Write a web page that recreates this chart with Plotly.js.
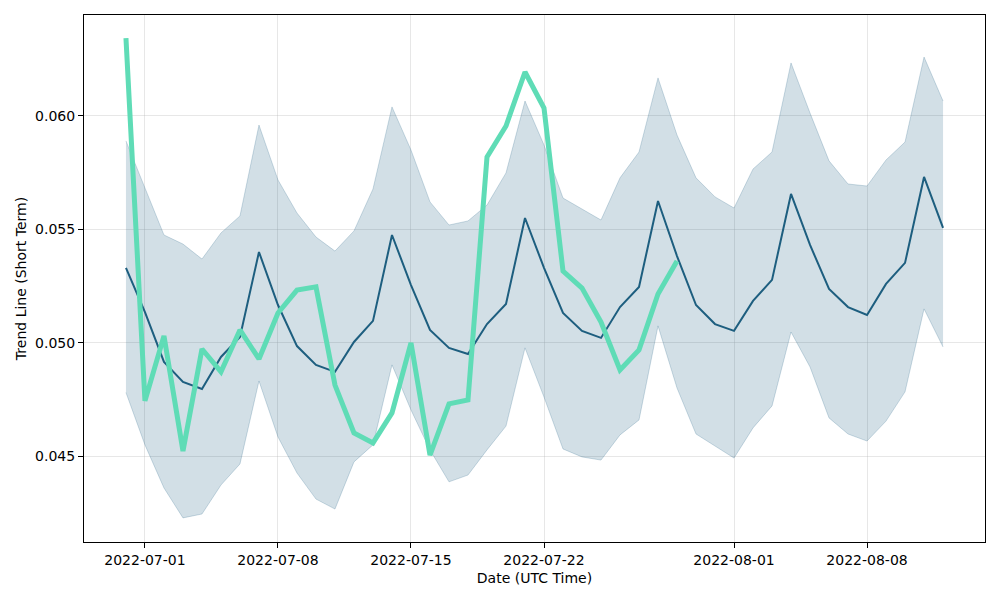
<!DOCTYPE html>
<html>
<head>
<meta charset="utf-8">
<script src="https://cdn.plot.ly/plotly-3.0.1.min.js"></script>
<style>html,body{margin:0;padding:0;background:#fff;}#chart{width:1000px;height:600px;}</style>
</head>
<body>
<div id="chart"></div>
<script>
const startDate = '2022-06-30';
const meanValues = [0.05330,0.05135,0.04915,0.04827,0.04796,0.04937,0.05025,0.05400,0.05166,0.04985,
  0.04902,0.04871,0.05003,0.05096,0.05475,0.05254,0.05056,0.04977,0.04950,0.05082,
  0.05171,0.05550,0.05330,0.05131,0.05052,0.05021,0.05157,0.05246,0.05625,0.05382,
  0.05166,0.05082,0.05052,0.05184,0.05277,0.05656,0.05431,0.05237,0.05157,0.05122,
  0.05259,0.05352,0.05731,0.05506];
const upperValues = [0.05890,0.05682,0.05475,0.05435,0.05369,0.05484,0.05559,0.05960,0.05718,0.05572,
  0.05466,0.05404,0.05493,0.05678,0.06040,0.05850,0.05621,0.05519,0.05537,0.05607,
  0.05749,0.06066,0.05872,0.05638,0.05590,0.05541,0.05727,0.05841,0.06168,0.05916,
  0.05727,0.05643,0.05594,0.05766,0.05841,0.06234,0.06013,0.05802,0.05700,0.05691,
  0.05806,0.05885,0.06260,0.06066];
const lowerValues = [0.04780,0.04549,0.04359,0.04227,0.04244,0.04372,0.04465,0.04831,0.04584,0.04425,
  0.04310,0.04266,0.04474,0.04549,0.04902,0.04703,0.04527,0.04386,0.04416,0.04527,
  0.04632,0.04977,0.04760,0.04531,0.04496,0.04482,0.04593,0.04659,0.05074,0.04800,
  0.04597,0.04544,0.04491,0.04624,0.04721,0.05047,0.04893,0.04668,0.04597,0.04566,
  0.04654,0.04783,0.05149,0.04981];
const shortTermValues = [0.06344,0.04743,0.05030,0.04522,0.04972,0.04871,0.05056,0.04928,0.05131,0.05232,
  0.05246,0.04813,0.04602,0.04558,0.04690,0.04999,0.04504,0.04730,0.04747,0.05819,
  0.05956,0.06194,0.06035,0.05316,0.05241,0.05091,0.04880,0.04968,0.05215,0.05360];
const tickDates = ['2022-07-01','2022-07-08','2022-07-15','2022-07-22','2022-08-01','2022-08-08'];

function dates(n){
  const out=[]; const d0=new Date(startDate+'T00:00:00Z');
  for(let i=0;i<n;i++){const d=new Date(d0.getTime()+i*86400000);out.push(d.toISOString().slice(0,10));}
  return out;
}
const xAll = dates(meanValues.length);
const xShort = dates(shortTermValues.length);

const bandLine = 'rgba(30,95,130,0.22)';
const traces = [
  {x:xAll,y:lowerValues,type:'scatter',mode:'lines',line:{color:bandLine,width:1},hoverinfo:'skip',showlegend:false},
  {x:xAll,y:upperValues,type:'scatter',mode:'lines',fill:'tonexty',fillcolor:'rgba(30,95,130,0.2)',line:{color:bandLine,width:1},hoverinfo:'skip',showlegend:false},
  {x:xAll,y:meanValues,type:'scatter',mode:'lines',line:{color:'#1d5e7f',width:2},showlegend:false},
  {x:xShort,y:shortTermValues,type:'scatter',mode:'lines',line:{color:'#5fdcb6',width:5},showlegend:false}
];
const font = {family:'DejaVu Sans, sans-serif',size:14,color:'#000'};
const layout = {
  width:1000,height:600,
  margin:{l:84,r:15,t:15,b:58},
  paper_bgcolor:'#fff',plot_bgcolor:'#fff',
  font:font,
  showlegend:false,
  xaxis:{type:'date',range:['2022-06-27T19:00','2022-08-14T05:00'],
    tickvals:tickDates,ticktext:tickDates,
    showgrid:true,gridcolor:'rgba(176,176,176,0.3)',gridwidth:1,
    showline:true,linecolor:'#000',linewidth:1,mirror:true,
    ticks:'outside',ticklen:5,tickcolor:'#000',zeroline:false,
    title:{text:'Date (UTC Time)',font:font,standoff:6},tickfont:font},
  yaxis:{range:[0.041206,0.064455],tickvals:[0.045,0.05,0.055,0.06],ticktext:['0.045','0.050','0.055','0.060'],
    showgrid:true,gridcolor:'rgba(176,176,176,0.3)',gridwidth:1,
    showline:true,linecolor:'#000',linewidth:1,mirror:true,
    ticks:'outside',ticklen:5,tickcolor:'#000',zeroline:false,
    title:{text:'Trend Line (Short Term)',font:font,standoff:5},tickfont:font}
};
Plotly.newPlot('chart',traces,layout,{staticPlot:true,displayModeBar:false});
</script>
</body>
</html>
